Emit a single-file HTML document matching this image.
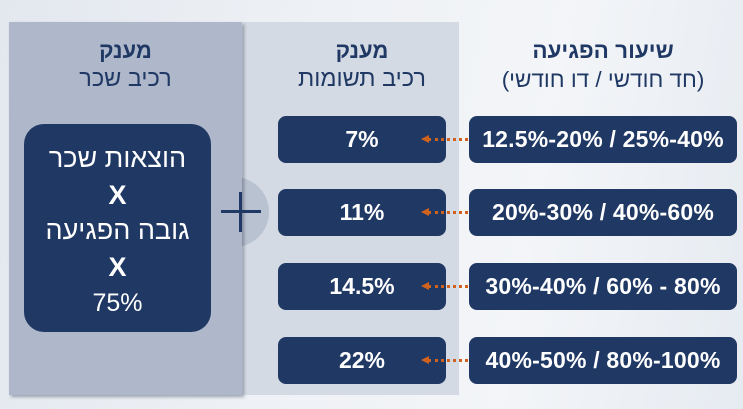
<!DOCTYPE html>
<html><head><meta charset="utf-8">
<style>
html,body{margin:0;padding:0;}
body{width:743px;height:409px;overflow:hidden;position:relative;
background:linear-gradient(100deg,#e3e8ef 0%,#eef1f5 40%,#f3f5f8 70%,#e6ebf1 100%);
font-family:"Liberation Sans","Noto Sans CJK SC",sans-serif;color:#1f3864;}
.abs{position:absolute;}
.left{left:9px;top:22px;width:233px;height:373px;background:#aeb8ca;box-shadow:2px 2px 3px rgba(60,70,90,0.45);}
.mid{left:243px;top:22px;width:216px;height:373px;background:#d4dae3;}
.circ{left:199px;top:177px;width:70px;height:70px;border-radius:50%;background:#b9c2d1;}
.plusH{left:221px;top:210px;width:40px;height:3px;background:#1f3864;}
.plusV{left:239px;top:192px;width:3px;height:40px;background:#1f3864;}
.big{left:24px;top:124px;width:187px;height:208px;background:#1f3864;border-radius:20px;color:#fff;text-align:center;}
.big div{position:absolute;left:0;width:100%;font-size:27px;line-height:30px;}
.box{background:#1f3864;border-radius:8px;color:#fff;font-weight:bold;text-align:center;height:47px;line-height:47px;}
.m{left:278px;width:168px;font-size:23px;}
.r{left:469px;width:268px;font-size:23px;letter-spacing:0.2px;}
.h{text-align:center;color:#1f3864;}
.hb{font-weight:bold;font-size:22px;}
.hr{font-size:23.5px;}
.dot{height:0;border-top:3px dotted #d0621e;width:40px;left:428px;}
.ah{width:0;height:0;border-top:4px solid transparent;border-bottom:4px solid transparent;border-right:8px solid #d0621e;left:421px;}
</style></head><body>
<div class="abs mid"></div>
<div class="abs circ"></div>
<div class="abs left"></div>
<div class="abs plusH"></div>
<div class="abs plusV"></div>

<div class="abs h hb" style="left:9px;width:233px;top:38px;" dir="rtl">מענק</div>
<div class="abs h hr" style="left:9px;width:233px;top:65px;" dir="rtl">רכיב שכר</div>

<div class="abs big">
<div style="top:19px" dir="rtl">הוצאות שכר</div>
<div style="top:56px;font-weight:bold;">X</div>
<div style="top:91px" dir="rtl">גובה הפגיעה</div>
<div style="top:128px;font-weight:bold;">X</div>
<div style="top:164px;font-size:25px;">75%</div>
</div>

<div class="abs h hb" style="left:278px;width:168px;top:38px;" dir="rtl">מענק</div>
<div class="abs h hr" style="left:278px;width:168px;top:65px;" dir="rtl">רכיב תשומות</div>

<div class="abs h hb" style="left:469px;width:268px;top:38px;font-size:22.5px;" dir="rtl">שיעור הפגיעה</div>
<div class="abs h hr" style="left:469px;width:268px;top:67px;font-size:22.5px;" dir="rtl">(חד חודשי / דו חודשי)</div>

<div class="abs box m" style="top:116px">7%</div>
<div class="abs box m" style="top:189px">11%</div>
<div class="abs box m" style="top:263px">14.5%</div>
<div class="abs box m" style="top:337px">22%</div>

<div class="abs box r" style="top:116px">12.5%-20% / 25%-40%</div>
<div class="abs box r" style="top:189px">20%-30% / 40%-60%</div>
<div class="abs box r" style="top:263px">30%-40% / 60% - 80%</div>
<div class="abs box r" style="top:337px">40%-50% / 80%-100%</div>

<div class="abs dot" style="top:138px"></div><div class="abs ah" style="top:135px"></div>
<div class="abs dot" style="top:211px"></div><div class="abs ah" style="top:208px"></div>
<div class="abs dot" style="top:285px"></div><div class="abs ah" style="top:282px"></div>
<div class="abs dot" style="top:359px"></div><div class="abs ah" style="top:356px"></div>
</body></html>
